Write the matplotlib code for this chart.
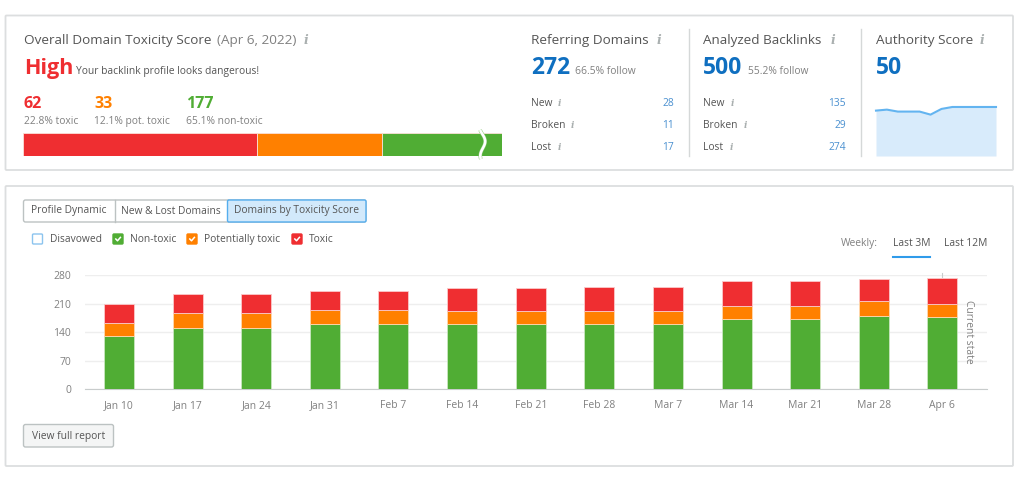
#!/usr/bin/env python3
"""Backlink audit overview: toxicity cards on top, weekly stacked bars below."""

import numpy as np
import matplotlib
matplotlib.use('Agg')
import matplotlib.pyplot as plt
from matplotlib.patches import FancyBboxPatch

plt.rcParams['font.family'] = ['Open Sans', 'DejaVu Sans']

# Data
weeks = ['Jan 10', 'Jan 17', 'Jan 24', 'Jan 31', 'Feb 7', 'Feb 14', 'Feb 21',
         'Feb 28', 'Mar 7', 'Mar 14', 'Mar 21', 'Mar 28', 'Apr 6']
non_toxic = [131, 151, 151, 160, 160, 160, 160, 160, 160, 171, 171, 180, 177]
pot_toxic = [31, 35, 35, 34, 34, 32, 32, 32, 31, 32, 32, 36, 33]
toxic = [46, 47, 47, 47, 47, 55, 55, 58, 60, 62, 62, 53, 62]
y_ticks = [0, 70, 140, 210, 280]

score_counts = [62, 33, 177]
score_labels = ['22.8% toxic', '12.1% pot. toxic', '65.1% non-toxic']
authority_history = [46.3, 47.3, 45.3, 45.3, 45.3, 42.2, 48, 50, 50, 50, 50, 50]

ref_rows = ['New', 'Broken', 'Lost']
ref_domains = [28, 11, 17]
ref_backlinks = [135, 29, 274]

RED = '#ef2e31'
ORANGE = '#ff8000'
GREEN = '#50ad34'
BLUE = '#0f6fc0'
LINK = '#4a90d0'
DARK = '#555555'
GREY = '#808080'
W, H = 1024, 478


def pixel_axes(fig, x0, y0, x1, y1, **kw):
    """Axes placed by picture pixels (y measured from the top)."""
    return fig.add_axes([x0 / W, 1 - y1 / H, (x1 - x0) / W, (y1 - y0) / H], **kw)


def txt(ax, x, y, s, size=7.5, color=DARK, **kw):
    kw.setdefault('va', 'center')
    kw.setdefault('ha', 'left')
    ax.text(x, y + 1, s, fontsize=size, color=color, **kw)


def info(ax, x, y, size=8):
    txt(ax, x, y, 'i', size=size, color='#aab0b0', ha='center', family='DejaVu Serif',
        style='italic', weight='bold')


def box(ax, x0, y0, x1, y1, fc='white', ec='#dcdedf', lw=1.0, rad=1.5, z=1):
    ax.add_patch(FancyBboxPatch((x0, y0), x1 - x0, y1 - y0,
                                boxstyle=f'round,pad=0,rounding_size={rad}',
                                fc=fc, ec=ec, lw=lw, zorder=z))


fig = plt.figure(figsize=(W / 100, H / 100), dpi=100, facecolor='white')

bg = fig.add_axes([0, 0, 1, 1])
bg.set_xlim(0, W)
bg.set_ylim(H, 0)
bg.axis('off')

box(bg, 5.5, 15.5, 1013, 170, lw=1.3, rad=1)
box(bg, 5.5, 186, 1013, 466, lw=1.3, rad=1)

# Top left card
txt(bg, 24, 39, 'Overall Domain Toxicity Score', size=9.7)
txt(bg, 217, 39, '(Apr 6, 2022)', size=9.7, color=GREY)
info(bg, 306, 39, 9)
txt(bg, 24, 67, 'High', size=15.5, color=RED, weight='bold')
txt(bg, 76, 70, 'Your backlink profile looks dangerous!', size=7.4)

for x, n, lab, c in zip([24, 94, 186], score_counts, score_labels, [RED, ORANGE, GREEN]):
    txt(bg, x, 103, str(n), size=11.5, color=c, weight='bold')
    txt(bg, x, 120, lab, size=7.4, color=GREY)

# broken bar: green runs past the axes limit and is cut at the squiggle
bar_ax = pixel_axes(fig, 23, 133, 501.5, 155.5)
px_per_unit = 234 / score_counts[0]
bar_ax.set_xlim(0, 478.5 / px_per_unit)
bar_ax.set_ylim(0, 1)
bar_ax.axis('off')
left = 0
for n, c in zip(score_counts, [RED, ORANGE, GREEN]):
    bar_ax.barh(0.5, n, left=left, height=1, color=c, edgecolor='#fbe0d8', linewidth=0.6)
    left += n

# squiggle sits over the bar, so it needs its own axes on top
over = fig.add_axes([0, 0, 1, 1], zorder=5)
over.set_xlim(0, W)
over.set_ylim(H, 0)
over.axis('off')
t = np.linspace(0, 1, 40)
sx = 482.5 + 3 * np.sin((t - 0.15) * 2 * np.pi) * (1 - 0.3 * t)
sy = 130 + 29 * t
over.plot(sx, sy, color='#8cc878', lw=2.6, solid_capstyle='butt')
over.plot(sx, sy, color='white', lw=1.9, solid_capstyle='butt')

# Top right cards
for x, title, ix, big, fol, fx, vals, vx, ixs in [
        (531, 'Referring Domains', 659, 272, '66.5% follow', 575, ref_domains, 674, [559, 572, 559]),
        (703, 'Analyzed Backlinks', 833, 500, '55.2% follow', 748, ref_backlinks, 846, [732, 745, 731])]:
    txt(bg, x, 39, title, size=9.7)
    info(bg, ix, 39, 9)
    txt(bg, x, 67, str(big), size=16.5, color=BLUE, weight='bold')
    txt(bg, fx, 70, fol, size=7.4, color=GREY)
    for y, lab, v, i_x in zip([102, 124, 147], ref_rows, vals, ixs):
        txt(bg, x, y, lab, size=7.4)
        info(bg, i_x, y, 6.5)
        txt(bg, vx, y, str(v), size=7.4, color=LINK, ha='right')

bg.plot([689, 689], [29, 156], color='#d5d8d8', lw=1)
bg.plot([861, 861], [29, 156], color='#d5d8d8', lw=1)

txt(bg, 876, 39, 'Authority Score', size=9.7)
info(bg, 982, 39, 9)
txt(bg, 876, 67, '50', size=16.5, color=BLUE, weight='bold')

spark = pixel_axes(fig, 876, 106, 996, 156)
xs = np.arange(len(authority_history))
spark.fill_between(xs, authority_history, color='#d8ebfb', lw=0)
spark.plot(xs, authority_history, color='#63b4f0', lw=1.5, clip_on=False)
spark.set_xlim(0, len(authority_history) - 1)
spark.set_ylim(0, 51)
spark.axis('off')

# Tabs
box(bg, 23.5, 200, 366, 222, ec='#bcc2c2', rad=2)
box(bg, 227.5, 200, 366, 222, fc='#d2e9fb', ec='#55aeee', rad=1.5, z=2)
bg.plot([114.5, 114.5], [200, 222], color='#bcc2c2', lw=1, zorder=3)
txt(bg, 69, 210, 'Profile Dynamic', size=7.4, ha='center')
txt(bg, 171, 210, 'New & Lost Domains', size=7.4, ha='center')
txt(bg, 297, 210, 'Domains by Toxicity Score', size=7.4, ha='center', zorder=4)

# Legend checkboxes
for x, lab, c, tx in [(32.5, 'Disavowed', None, 50), (113, 'Non-toxic', GREEN, 130),
                      (187, 'Potentially toxic', ORANGE, 204), (292, 'Toxic', RED, 309)]:
    if c is None:
        box(bg, x, 234, x + 10, 244, ec='#8cc4ee', rad=1)
    else:
        box(bg, x, 234, x + 10, 244, fc=c, ec=c, rad=1)
        bg.plot([x + 2.8, x + 4.5, x + 7.4], [239, 240.8, 237.4], color='white', lw=1.1, zorder=3)
    txt(bg, tx, 238.5, lab, size=7.4)

txt(bg, 841, 242.5, 'Weekly:', size=7.4, color=GREY)
txt(bg, 893, 242.5, 'Last 3M', size=7.4)
txt(bg, 944.5, 242.5, 'Last 12M', size=7.4)
bg.plot([893, 930], [256.7, 256.7], color='#2f9bea', lw=1.5)

box(bg, 23.5, 424.5, 113.5, 447, fc='#f4f5f5', ec='#bcc2c2', rad=2)
txt(bg, 69, 435.5, 'View full report', size=7.4, ha='center')

# Weekly stacked bars
ax = pixel_axes(fig, 85, 275, 987, 389.3)
ax.patch.set_alpha(0)
pos = np.arange(len(weeks))
nt = np.array(non_toxic)
pt = np.array(pot_toxic)
tx = np.array(toxic)
edge = dict(linewidth=0.6, width=0.437)
ax.bar(pos, nt, color=GREEN, edgecolor='#c9e6c0', zorder=3, **edge)
ax.bar(pos, pt, bottom=nt, color=ORANGE, edgecolor='#ffd9b0', zorder=3, **edge)
ax.bar(pos, tx, bottom=nt + pt, color=RED, edgecolor='#fbc9ca', zorder=3, **edge)
ax.set_xlim(-0.496, 12.65)
ax.set_ylim(0, 280)
ax.set_yticks(y_ticks)
ax.set_xticks(pos)
ax.set_xticklabels(weeks)
ax.grid(axis='y', color='#eeeeee', lw=1)
ax.set_axisbelow(True)
for side in ['top', 'right', 'left']:
    ax.spines[side].set_visible(False)
ax.spines['bottom'].set_color('#c8cccc')
ax.tick_params(axis='both', length=0, labelsize=7.5, labelcolor=GREY)
ax.tick_params(axis='x', pad=7.5)
ax.tick_params(axis='y', pad=10)
ax.axvline(pos[-1], ymin=0.98, ymax=1.02, color='#c8cccc', lw=0.8, clip_on=False, zorder=2)
ax.text(969, 332, 'Current state', transform=bg.transData, rotation=-90, fontsize=7.4,
        color=GREY, ha='center', va='center')

fig.savefig('out.png', dpi=100)
